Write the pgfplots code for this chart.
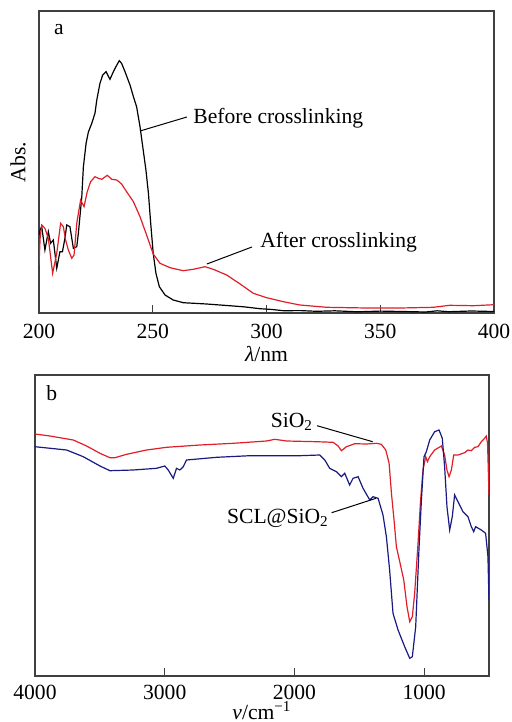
\documentclass[border=0pt]{standalone}
\usepackage{fontspec}
\setmainfont{Liberation Serif}
\usepackage{pgfplots}
\pgfplotsset{compat=1.18}
\definecolor{cred}{RGB}{225,30,40}
\definecolor{cnavy}{RGB}{25,25,130}
\begin{document}
\begin{tikzpicture}
\useasboundingbox (0,0) rectangle (255.5pt,-361pt);
\pgfplotsset{every axis/.append style={scale only axis,
  font=\fontsize{10.8}{12.5}\selectfont,
  /pgf/number format/assume math mode=true,
  /pgf/number format/1000 sep={},
  ytick=\empty, xtick pos=left, tick align=inside, major tick length=4pt,
  axis line style={line width=0.8pt, black!75},
  every tick/.style={black!75, line width=0.6pt},
  clip=true}}
% ---------------- panel a ----------------
\begin{axis}[at={(19.5pt,-5.5pt)}, anchor=north west, width=227.5pt, height=151pt,
  xmin=200, xmax=400, ymin=0, ymax=302, xtick={200,250,300,350,400},
  xticklabel style={yshift=-2pt},
  xlabel={\textit{λ}/nm}, xlabel style={at={(axis description cs:0.5,0)}, anchor=center, yshift=-20.5pt},
  ylabel={Abs.}, ylabel style={at={(axis description cs:-0.046,0.5)}, anchor=center}]
\addplot[black, line width=0.6pt] coordinates {(200,78) (200.6,84) (201.2,86.3) (202.6,63) (204.1,81.3) (205.1,69.7) (206.3,73) (207.8,44.7) (209.2,61.3) (210.3,61.3) (211.4,74.7) (212.2,88) (213.6,86.3) (215.1,64.7) (216.6,66.3) (217.3,79.7) (218.8,116) (219.5,146) (220.7,169.7) (221.7,181) (223.2,189.7) (224.6,199.7) (225.4,213) (226.8,229.7) (228,238) (229.5,241.3) (230.2,238) (231.2,233.7) (232.7,241.3) (234.2,248) (235.3,252.3) (236.3,249.7) (237.8,241.3) (240,228) (241.5,216.3) (242.9,206.3) (244.4,186.3) (245.8,163) (247,143) (248.1,119.7) (249.1,89.7) (250.2,59.7) (251.4,39.7) (252.9,26.3) (255.4,18) (259,13) (263.4,10.3) (273.7,9) (285.4,7) (290,6.2) (297.1,4.3) (302,3.6) (307.4,2.3) (315,2.4) (322,1.7) (330,2.2) (340,1.2) (350,1.9) (360,1.5) (370,1.0) (375,2.2) (380,1.3) (390,2.0) (400,1.5)};
\addplot[cred, line width=0.6pt] coordinates {(200,48) (200.5,75) (201.2,88) (202.6,84.7) (204.1,74.7) (206,39.7) (207.8,59.7) (209.5,89.7) (210.7,86.3) (211.7,73) (212.9,63) (214.4,54.7) (215.4,58) (216.6,89.7) (218.3,113) (219.8,106.3) (221.2,121.3) (222.7,131.3) (224.6,136.3) (226.1,134.7) (227.6,133.7) (230,137.7) (232,133.7) (234.2,133) (236.3,129) (238.5,121.3) (241.5,111.3) (244.4,96.3) (247.3,78) (250.2,59) (253.2,49.7) (257.6,45.3) (263.4,42.3) (267.8,43.7) (273,46.3) (276.6,43.7) (282.5,38) (288.4,29) (294.2,19.7) (300.1,15.3) (307.4,11.3) (314.7,8) (326.5,5.7) (344,5) (358.7,5) (373.3,5.7) (380.6,7.7) (391,7.3) (400,8.3)};
\draw[black, line width=0.5pt] (axis cs:244.4,182) -- (axis cs:265,196);
\node[anchor=west, inner sep=0pt] at (axis cs:267.7,195) {Before crosslinking};
\draw[black, line width=0.5pt] (axis cs:273.8,49) -- (axis cs:293.6,66);
\node[anchor=west, inner sep=0pt] at (axis cs:297.1,71) {After crosslinking};
\node[inner sep=0pt] at (axis cs:208.8,283) {a};
\end{axis}
% ---------------- panel b ----------------
\begin{axis}[at={(17.5pt,-187.5pt)}, anchor=north west, width=227pt, height=150.5pt,
  x dir=reverse, xmin=500, xmax=4000, ymin=0, ymax=301, xtick={1000,2000,3000,4000},
  xticklabel style={yshift=-1pt},
  xlabel={\textit{ν}/cm\textsuperscript{−1}}, xlabel style={at={(axis description cs:0.5,0)}, anchor=center, yshift=-17.5pt}]
\addplot[cred, line width=0.6pt] coordinates {(4000,242) (3884,240) (3705,236) (3602,230) (3499,222.7) (3422,218.3) (3384,218.3) (3294,221.7) (3140,226) (2986,228.7) (2729,231) (2472,232.7) (2215,235) (2151,236.7) (2061,235) (1830,234.3) (1702,233.7) (1663,230) (1638,225.3) (1599,229.3) (1535,232.3) (1445,232) (1368,232.7) (1330,231.7) (1296,226) (1270,212.7) (1252,182.7) (1232,156) (1214,129.3) (1188,114.3) (1157,96) (1132,69.3) (1111,54.3) (1091,59.3) (1073,82.7) (1047,132.7) (1029,172.7) (1009,206) (988,219.3) (975,214.3) (957,219.3) (919,226) (867,230) (842,221) (824,206) (808,199.3) (790,206) (772,221) (739,221) (688,223.3) (662,226) (636,225.3) (611,228.7) (585,229.3) (559,234.3) (534,237.7) (521,240) (511,232.7) (500,181)};
\addplot[cnavy, line width=0.6pt] coordinates {(4000,229.3) (3756,226) (3628,219.3) (3499,210) (3422,205.3) (3243,206) (3063,207.7) (2999,210) (2973,206) (2934,197.7) (2909,207.7) (2883,206) (2857,209.3) (2832,216) (2600,218.7) (2344,220.3) (1959,220.3) (1805,221) (1766,216) (1728,207.7) (1676,204.3) (1638,199.3) (1612,202.7) (1574,191) (1548,197.7) (1509,199.3) (1471,187.7) (1419,176) (1394,179.3) (1355,177.7) (1317,161) (1291,139.3) (1266,106) (1240,62.7) (1201,46) (1150,29.3) (1111,17.7) (1091,19.3) (1065,49.3) (1039,129.3) (1021,176) (1001,219.3) (983,224.3) (957,236) (919,244.3) (885,246) (860,237.7) (842,209.3) (824,169.3) (803,146) (783,159.3) (765,181) (739,174.3) (701,164.3) (662,159.3) (636,149.3) (618,144.3) (603,149.3) (559,146) (526,142.7) (508,119.3) (500,76)};
\draw[black, line width=0.5pt] (axis cs:1826,250.3) -- (axis cs:1397,234.3);
\node[inner sep=0pt] at (axis cs:2019,254.3) {SiO\textsubscript{2}};
\draw[black, line width=0.5pt] (axis cs:1713,163.3) -- (axis cs:1371,177.7);
\node[inner sep=0pt] at (axis cs:2127,158) {SCL@SiO\textsubscript{2}};
\node[inner sep=0pt] at (axis cs:3871,283) {b};
\end{axis}
\end{tikzpicture}
\end{document}
